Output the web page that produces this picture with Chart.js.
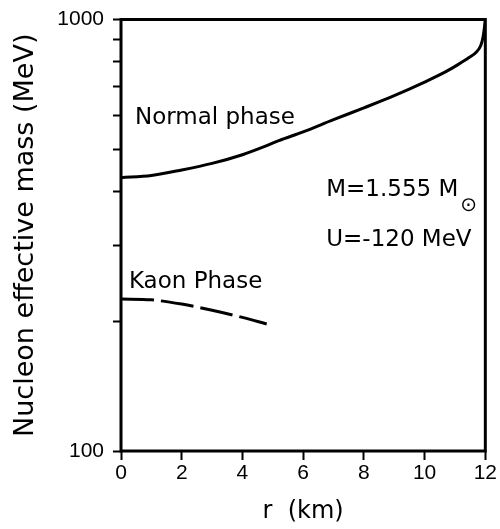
<!DOCTYPE html>
<html>
<head>
<meta charset="utf-8">
<title>Nucleon effective mass</title>
<script src="https://cdn.jsdelivr.net/npm/chart.js@4.4.1/dist/chart.umd.min.js"></script>
<style>
  html, body { margin: 0; padding: 0; background: #fff; }
  #chart { display: block; }
</style>
</head>
<body>
<canvas id="chart" width="500" height="529"></canvas>
<script>
'use strict';

// Normal phase curve (solid): r in km, mass in MeV
const normalR = [0, 1, 2, 3, 4, 4.8, 5.2, 6, 7, 8, 9, 10, 10.7, 11.1, 11.45, 11.7, 11.85, 11.93, 11.98, 12];
const normalMass = [430, 435, 448, 464, 486, 510, 524, 549, 586, 624, 666, 716, 757, 786, 815, 840, 870, 915, 970, 1000];

// Kaon phase curve (dashed)
const kaonR = [0, 1, 2, 3, 4, 4.8];
const kaonMass = [225, 224, 219, 212, 204, 197];

// Tick marks on the log axis; only the decade ends carry a label
const yTicks = [100, 200, 300, 400, 500, 600, 700, 800, 900, 1000];
const yLabelled = [100, 1000];

const FONT = 'DejaVu Sans';
const TICK_FONT = 'Liberation Sans';

/**
 * Zips two parallel arrays into {x, y} points for a linear x axis.
 */
function toPoints(xs, ys) {
  return xs.map((x, i) => ({ x: x, y: ys[i] }));
}

/**
 * Draws the closed frame round the plot area.
 */
const framePlugin = {
  id: 'frame',
  afterDatasetsDraw(chart) {
    const a = chart.chartArea;
    const ctx = chart.ctx;
    ctx.save();
    ctx.strokeStyle = '#000';
    ctx.lineWidth = 3;
    ctx.strokeRect(a.left, a.top, a.right - a.left, a.bottom - a.top);
    ctx.restore();
  }
};

/**
 * Text notes inside the plot, anchored at (r, mass) through the scales.
 */
const notesPlugin = {
  id: 'notes',
  afterDraw(chart) {
    const ctx = chart.ctx;
    const xs = chart.scales.x;
    const ys = chart.scales.y;
    const notes = [
      { text: 'Normal phase', r: 0.46, m: 573 },
      { text: 'Kaon Phase', r: 0.26, m: 239 },
      { text: 'M=1.555 M', r: 6.76, m: 389, sun: true },
      { text: 'U=-120 MeV', r: 6.76, m: 298 }
    ];
    ctx.save();
    ctx.fillStyle = '#000';
    ctx.textAlign = 'left';
    for (const n of notes) {
      const px = xs.getPixelForValue(n.r);
      const py = ys.getPixelForValue(n.m);
      ctx.font = '23px "' + FONT + '"';
      ctx.textBaseline = 'alphabetic';
      ctx.fillText(n.text, px, py);
      if (n.sun) {
        const w = ctx.measureText(n.text).width;
        ctx.font = '20px "' + FONT + '"';
        ctx.textBaseline = 'middle';
        ctx.fillText('\u2299', px + w + 2, py + 9);
      }
    }
    ctx.restore();
  }
};

new Chart(document.getElementById('chart'), {
  type: 'line',
  data: {
    datasets: [{
      label: 'Normal phase',
      data: toPoints(normalR, normalMass),
      borderColor: '#000',
      borderWidth: 3,
      pointRadius: 0,
      cubicInterpolationMode: 'monotone',
      fill: false
    }, {
      label: 'Kaon Phase',
      data: toPoints(kaonR, kaonMass),
      borderColor: '#000',
      borderWidth: 3,
      borderDash: [33, 7],
      borderCapStyle: 'butt',
      pointRadius: 0,
      cubicInterpolationMode: 'monotone',
      fill: false
    }]
  },
  options: {
    responsive: false,
    animation: false,
    layout: { padding: { top: 12, right: 14, bottom: 0, left: 0 } },
    plugins: {
      legend: { display: false },
      tooltip: { enabled: false }
    },
    scales: {
      x: {
        type: 'linear',
        min: 0,
        max: 12,
        border: { display: false },
        grid: { display: true, drawOnChartArea: false, drawTicks: true, tickLength: 9, tickWidth: 2, tickColor: '#000' },
        ticks: {
          stepSize: 2,
          color: '#000',
          padding: 3,
          maxRotation: 0,
          font: { family: TICK_FONT, size: 21, lineHeight: 1 }
        },
        title: {
          display: true,
          text: 'r  (km)',
          color: '#000',
          font: { family: FONT, size: 24 },
          padding: { top: 3, bottom: 3 }
        },
        afterFit(scale) { scale.height = 78; }
      },
      y: {
        type: 'logarithmic',
        min: 100,
        max: 1000,
        border: { display: false },
        grid: { display: true, drawOnChartArea: false, drawTicks: true, tickLength: 8, tickWidth: 2, tickColor: '#000' },
        afterBuildTicks(scale) {
          scale.ticks = yTicks.map((v) => ({ value: v }));
        },
        ticks: {
          autoSkip: false,
          color: '#000',
          padding: 9,
          font: { family: TICK_FONT, size: 21, lineHeight: 1 },
          callback: (v) => (yLabelled.includes(Math.round(v)) ? String(Math.round(v)) : '')
        },
        title: {
          display: true,
          text: 'Nucleon effective mass (MeV)',
          color: '#000',
          font: { family: FONT, size: 27 },
          padding: { top: 10, bottom: 10 }
        },
        afterFit(scale) { scale.width = 121; }
      }
    }
  },
  plugins: [framePlugin, notesPlugin]
});
</script>
</body>
</html>
